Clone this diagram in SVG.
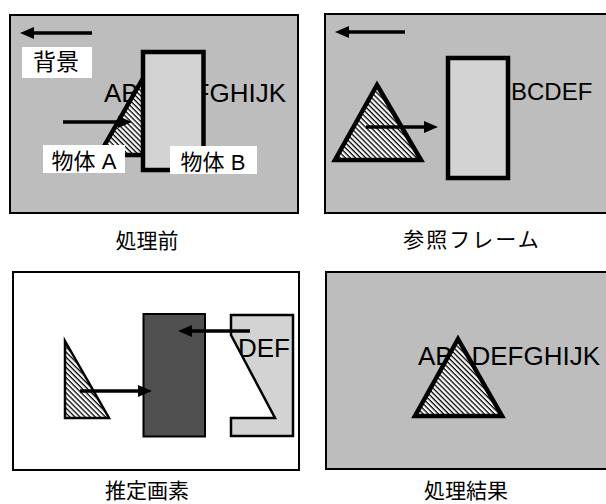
<svg xmlns="http://www.w3.org/2000/svg" width="606" height="504" viewBox="0 0 606 504">
<defs>
<style>
.frame{stroke:#000;stroke-width:2}
.bg{fill:#bdbdbd}
.objB{fill:#d3d3d3;stroke:#000;stroke-width:4.5}
.tri{fill:url(#hatch);stroke:#000;stroke-width:4.5;stroke-linejoin:miter}
.arrow{stroke:#000;stroke-width:3.5;fill:none;marker-end:url(#ah)}
.lbl{fill:#fff}
.jp{font-family:"Liberation Sans","Noto Sans CJK JP",sans-serif;fill:#000}
.abc{font-family:"Liberation Sans",Arial,sans-serif;fill:#000}
.cap{font-family:"Noto Sans CJK JP",sans-serif;font-size:21px;fill:#000;text-anchor:middle}
</style>
<pattern id="hatch" patternUnits="userSpaceOnUse" width="3.6" height="3.6" patternTransform="rotate(45)">
<rect width="3.6" height="3.6" fill="#fff"/>
<line x1="0" y1="0" x2="3.6" y2="0" stroke="#000" stroke-width="2.6"/>
</pattern>
<marker id="ah" markerUnits="userSpaceOnUse" markerWidth="14" markerHeight="12" viewBox="0 0 14 12" refX="7" refY="6" orient="auto">
<path d="M0,0 L14,6 L0,12 z" fill="#000"/>
</marker>
<clipPath id="clipP2"><rect x="325" y="14" width="290" height="199"/></clipPath>
<clipPath id="clipB3"><polygon points="231,315 293,315 293,436 231,436 231,418 275,418 231,335"/></clipPath>
</defs>

<g id="panel1">
<rect class="frame bg" x="10" y="15" width="288" height="198"/>
<g id="bg-label">
<rect class="lbl" x="22" y="47" width="70" height="31"/>
<text class="jp" x="56" y="70" font-size="23" text-anchor="middle">背景</text>
</g>
<text class="abc" x="104" y="102" font-size="26">AB</text>
<text class="abc" x="193.6" y="102" font-size="26">FGHIJK</text>
<g id="objA1"><polygon class="tri" points="142,80 185,155 99,155"/></g>
<g id="objB1"><rect class="objB" x="143" y="52" width="60.5" height="118"/></g>
<g id="labelA"><rect class="lbl" x="43" y="145" width="82" height="28"/>
<text class="jp" x="84" y="169" font-size="22" text-anchor="middle">物体 A</text></g>
<g id="labelB"><rect class="lbl" x="170" y="146" width="87" height="28"/>
<text class="jp" x="213" y="170" font-size="22" text-anchor="middle">物体 B</text></g>
<text class="cap" x="147" y="248">処理前</text>
</g>

<g id="panel2">
<rect class="frame bg" x="325" y="14" width="290" height="199"/>
<text class="abc" x="511" y="100" font-size="24" clip-path="url(#clipP2)">BCDEF</text>
<g id="objA2"><polygon class="tri" points="377,85 421,160 335,160"/></g>
<g id="objB2"><rect class="objB" x="448" y="58" width="60" height="120"/></g>
<text class="cap" x="472" y="247" letter-spacing="2">参照フレーム</text>
</g>

<g id="panel3">
<rect class="frame" fill="#fff" x="13" y="272" width="286" height="198"/>
<g id="objA3"><polygon points="65,341 109,418 65,418" fill="url(#hatch)" stroke="#000" stroke-width="2.5"/></g>
<g id="est"><rect x="143.5" y="314" width="61.5" height="122.5" fill="#505050" stroke="#000" stroke-width="2"/></g>
<g id="objB3">
<polygon points="231,315 293,315 293,436 231,436 231,418 275,418 231,335" fill="#d3d3d3"/>
<text class="abc" x="238" y="357" font-size="26" clip-path="url(#clipB3)">DEF</text>
<polygon points="231,315 293,315 293,436 231,436 231,418 275,418 231,335" fill="none" stroke="#000" stroke-width="2.5"/>
</g>
<text class="cap" x="147" y="498">推定画素</text>
</g>

<g id="panel4">
<rect class="frame bg" x="326" y="272" width="290" height="197"/>
<text class="abc" x="418" y="365" font-size="26">AB</text>
<text class="abc" x="471.5" y="365" font-size="26">DEFGHIJK</text>
<g id="objA4"><polygon class="tri" points="458,339 502,416 415,416"/></g>
<text class="cap" x="466" y="498">処理結果</text>
</g>

<g id="connectors">
<line class="arrow" x1="92" y1="33" x2="27" y2="33"/>
<line class="arrow" x1="63" y1="122" x2="125" y2="122"/>
<line class="arrow" x1="405" y1="32" x2="342" y2="32"/>
<line class="arrow" x1="366" y1="127" x2="431" y2="127"/>
<line class="arrow" x1="80" y1="391" x2="145" y2="391"/>
<line class="arrow" x1="250" y1="331" x2="185" y2="331"/>
</g>
</svg>
